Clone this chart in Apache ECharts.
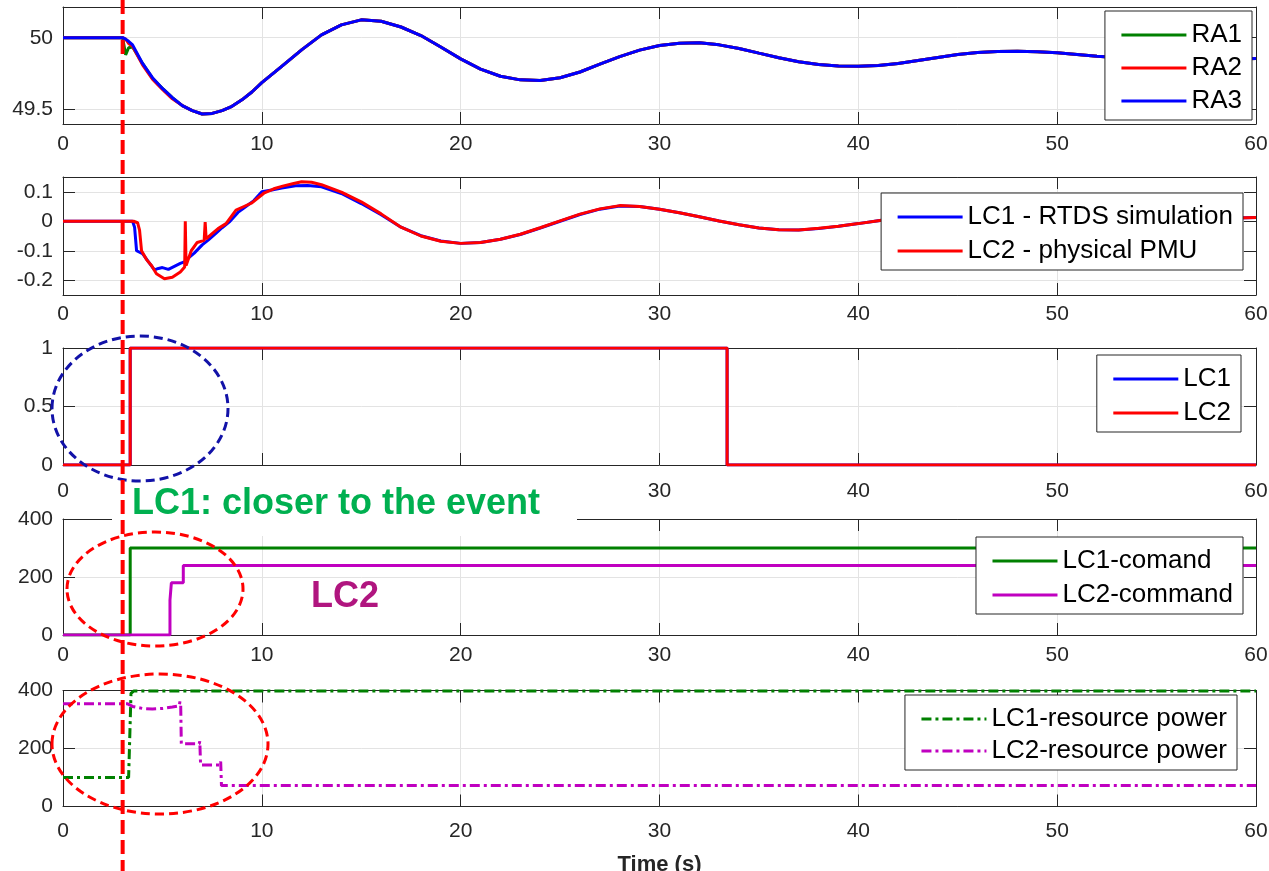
<!DOCTYPE html>
<html>
<head>
<meta charset="utf-8">
<script src="https://cdn.jsdelivr.net/npm/echarts@6.0.0/dist/echarts.min.js"></script>
<style>
  html, body { margin: 0; padding: 0; background: #ffffff; }
  #chart { width: 1269px; height: 871px; }
</style>
</head>
<body>
<div id="chart"></div>
<script>
// ---- Frequency at the three areas (Hz) ----
const freqTime = [0, 2.5, 3, 3.15, 3.3, 3.5,
  4, 4.5, 5, 5.5, 6, 6.5, 7, 7.5, 8, 8.5, 9, 9.5, 10,
  11, 12, 13, 14, 15, 16, 17, 18, 19, 20,
  21, 22, 23, 24, 25, 26, 27, 28, 29, 30,
  31, 32, 33, 34, 35, 36, 37, 38, 39, 40,
  41, 42, 43, 44, 45, 46, 47, 48, 49, 50,
  51, 52, 53, 54, 55, 56, 57, 58, 59, 60];
const freqRA1 = [50, 50, 50, 49.88, 49.93, 49.935,
  49.82, 49.715, 49.645, 49.58, 49.525, 49.49, 49.466, 49.47, 49.49, 49.52, 49.565, 49.62, 49.685,
  49.8, 49.915, 50.02, 50.09, 50.125, 50.115, 50.075, 50.015, 49.935, 49.852,
  49.78, 49.73, 49.705, 49.7, 49.72, 49.76, 49.815, 49.868, 49.913, 49.946,
  49.962, 49.964, 49.95, 49.925, 49.892, 49.86, 49.832, 49.812, 49.802, 49.8,
  49.806, 49.82, 49.84, 49.862, 49.882, 49.896, 49.904, 49.906, 49.902, 49.894,
  49.883, 49.871, 49.861, 49.853, 49.848, 49.846, 49.846, 49.848, 49.851, 49.854];
const freqRA2 = [50, 50, 50, 49.99, 49.96, 49.94,
  49.81, 49.71, 49.638, 49.572, 49.525, 49.49, 49.466, 49.47, 49.49, 49.52, 49.565, 49.62, 49.685,
  49.8, 49.915, 50.02, 50.09, 50.125, 50.115, 50.075, 50.015, 49.935, 49.852,
  49.78, 49.73, 49.705, 49.7, 49.72, 49.76, 49.815, 49.868, 49.913, 49.946,
  49.962, 49.964, 49.95, 49.925, 49.892, 49.86, 49.832, 49.812, 49.802, 49.8,
  49.806, 49.82, 49.84, 49.862, 49.882, 49.896, 49.904, 49.906, 49.902, 49.894,
  49.883, 49.871, 49.861, 49.853, 49.848, 49.846, 49.846, 49.848, 49.851, 49.854];
const freqRA3 = [50, 50, 50, 49.99, 49.975, 49.95,
  49.82, 49.72, 49.645, 49.58, 49.525, 49.49, 49.466, 49.47, 49.49, 49.52, 49.565, 49.62, 49.685,
  49.8, 49.915, 50.02, 50.09, 50.125, 50.115, 50.075, 50.015, 49.935, 49.852,
  49.78, 49.73, 49.705, 49.7, 49.72, 49.76, 49.815, 49.868, 49.913, 49.946,
  49.962, 49.964, 49.95, 49.925, 49.892, 49.86, 49.832, 49.812, 49.802, 49.8,
  49.806, 49.82, 49.84, 49.862, 49.882, 49.896, 49.904, 49.906, 49.902, 49.894,
  49.883, 49.871, 49.861, 49.853, 49.848, 49.846, 49.846, 49.848, 49.851, 49.854];

// ---- Measured signal at the two local controllers ----
const sigTimeLC1 = [0, 3.5, 3.6, 3.7, 4, 4.3, 4.6, 4.8, 5, 5.3,
  5.6, 5.9, 6.1, 6.3, 6.6, 7, 7.3, 7.7, 8, 8.4,
  8.8, 9.2, 9.6, 10, 10.5, 11, 11.7, 12.3, 13, 14,
  15, 16,
  17, 18, 19, 20, 21, 22, 23, 24, 25, 26,
  27, 28, 29, 30, 31, 32, 33, 34, 35, 36,
  37, 38, 39, 40, 41, 42, 43, 44, 45, 46,
  47, 48, 49, 50, 51, 52, 53, 54, 55, 56,
  57, 58, 59, 60];
const sigLC1 = [0, 0, -0.02, -0.1, -0.11, -0.138, -0.165, -0.16, -0.157, -0.163,
  -0.153, -0.143, -0.138, -0.125, -0.108, -0.08, -0.064, -0.04, -0.022, 0,
  0.03, 0.05, 0.07, 0.1, 0.106, 0.113, 0.12, 0.121, 0.117, 0.094,
  0.06, 0.022,
  -0.02, -0.049, -0.067, -0.075, -0.072, -0.061, -0.045, -0.023, 0, 0.023,
  0.041, 0.052, 0.05, 0.041, 0.029, 0.015, 0.001, -0.012, -0.023, -0.029,
  -0.03, -0.025, -0.017, -0.008, 0.002, 0.011, 0.018, 0.022, 0.023, 0.021,
  0.016, 0.009, 0.002, -0.005, -0.011, -0.014, -0.015, -0.013, -0.009, -0.003,
  0.003, 0.008, 0.011, 0.013];
const sigTimeLC2 = [0, 3.55, 3.75, 3.85, 3.95, 4.2, 4.45, 4.7, 5.1, 5.5,
  5.9, 6.12, 6.15, 6.19, 6.45, 6.75, 7.1, 7.15, 7.2, 7.5,
  7.8, 8.2, 8.7, 9.1, 9.5, 10.1, 10.6, 11.1, 11.6, 12,
  12.5, 13, 14, 15, 16,
  17, 18, 19, 20, 21, 22, 23, 24, 25, 26,
  27, 28, 29, 30, 31, 32, 33, 34, 35, 36,
  37, 38, 39, 40, 41, 42, 43, 44, 45, 46,
  47, 48, 49, 50, 51, 52, 53, 54, 55, 56,
  57, 58, 59, 60];
const sigLC2 = [0, 0, -0.005, -0.03, -0.1, -0.13, -0.15, -0.178, -0.195, -0.19,
  -0.172, -0.155, 0, -0.15, -0.1, -0.072, -0.065, -0.003, -0.06, -0.042,
  -0.025, -0.008, 0.038, 0.05, 0.062, 0.095, 0.11, 0.12, 0.128, 0.134,
  0.132, 0.124, 0.099, 0.066, 0.025,
  -0.02, -0.05, -0.068, -0.075, -0.072, -0.061, -0.044, -0.022, 0.001, 0.024,
  0.042, 0.053, 0.05, 0.041, 0.029, 0.015, 0.001, -0.012, -0.023, -0.029,
  -0.03, -0.024, -0.017, -0.008, 0.002, 0.011, 0.018, 0.022, 0.023, 0.021,
  0.016, 0.009, 0.002, -0.005, -0.011, -0.014, -0.015, -0.013, -0.009, -0.003,
  0.003, 0.008, 0.011, 0.013];

// ---- Trigger flags (held until the next sample) ----
const flagTime = [0, 3.38, 33.4, 60];
const flagLC1 = [0, 1, 0, 0];
const flagLC2 = [0, 1, 0, 0];

// ---- Power commands (held until the next sample) ----
const cmdTimeLC1 = [0, 3.38, 60];
const cmdLC1 = [0, 300, 300];
const cmdTimeLC2 = [0, 5.38, 5.45, 6.05, 60];
const cmdLC2 = [0, 120, 180, 240, 240];

// ---- Resource power ----
const powTimeLC1 = [0, 3.3, 3.42, 3.55, 60];
const powLC1 = [100, 100, 390, 398, 398];
const powTimeLC2 = [0, 3.25, 3.5, 4, 4.5, 5, 5.5, 5.85, 5.88, 5.92, 5.95, 6.85, 6.88, 6.92, 7.9, 7.93, 7.97, 60];
const powLC2 = [354, 354, 345, 338, 336, 338, 343, 347, 362, 348, 216, 216, 225, 143, 143, 155, 72, 72];

// ---- Axis ticks ----
const timeTickStep = 10;
const freqTicks = [49.5, 50];
const sigTicks = [-0.2, -0.1, 0, 0.1];
const flagTicks = [0, 0.5, 1];
const powerTicks = [0, 200, 400];
const eventTime = 3;

const FONT = "'Liberation Sans', Arial, Helvetica, sans-serif";
const AX = '#262626';
const GRIDLINE = '#e3e3e3';

const pairs = (t, v) => t.map((x, i) => [x, v[i]]);

// panel frames
const panels = [
  { top: 7, height: 117, min: 49.396, max: 50.215, ticks: freqTicks, labelGap: 10 },
  { top: 177, height: 118, min: -0.25, max: 0.15, ticks: sigTicks, labelGap: 9 },
  { top: 348, height: 117, min: 0, max: 1, ticks: flagTicks, labelGap: 16 },
  { top: 519, height: 116, min: 0, max: 400, ticks: powerTicks, labelGap: 10 },
  { top: 690.5, height: 116, min: 0, max: 400, ticks: powerTicks, labelGap: 14 }
];

const grids = [], xAxes = [], yAxes = [];
panels.forEach((p, i) => {
  grids.push({ left: 63, right: 13, top: p.top, height: p.height, outerBoundsMode: 'none' });
  const lineStyle = { color: AX, width: 1 };
  const xBase = {
    gridIndex: i, type: 'value', min: 0, max: 60, interval: timeTickStep,
    axisLine: { show: true, onZero: false, lineStyle },
    axisTick: { show: true, inside: true, length: 12, lineStyle }
  };
  xAxes.push(Object.assign({}, xBase, {
    position: 'bottom',
    axisLabel: { show: true, margin: p.labelGap, fontSize: 21, color: AX, fontFamily: FONT },
    splitLine: { show: true, lineStyle: { color: GRIDLINE, width: 1 } }
  }, i === 4 ? {
    name: 'Time (s)', nameLocation: 'middle', nameGap: 47,
    nameTextStyle: { fontSize: 22, fontWeight: 'bold', color: AX, fontFamily: FONT }
  } : {}));
  xAxes.push(Object.assign({}, xBase, {
    position: 'top', axisLabel: { show: false }, splitLine: { show: false }
  }));
  const yBase = {
    gridIndex: i, type: 'value', min: p.min, max: p.max,
    axisLine: { show: true, onZero: false, lineStyle },
    axisTick: { show: true, inside: true, length: 12, lineStyle, customValues: p.ticks }
  };
  yAxes.push(Object.assign({}, yBase, {
    position: 'left',
    axisLabel: { show: true, margin: 10, fontSize: 21, color: AX, fontFamily: FONT, customValues: p.ticks },
    splitLine: { show: true, lineStyle: { color: GRIDLINE, width: 1 } }
  }));
  yAxes.push(Object.assign({}, yBase, {
    position: 'right', axisLabel: { show: false }, splitLine: { show: false }
  }));
});

function lineSeries(name, panel, data, color, extra) {
  return Object.assign({
    name, type: 'line', xAxisIndex: panel * 2, yAxisIndex: panel * 2,
    data, symbol: 'none', showSymbol: false, animation: false,
    lineStyle: { color, width: 3 }, itemStyle: { color },
    emphasis: { disabled: true }
  }, extra || {});
}

const DASHDOT = [10, 4, 3, 4];
const series = [
  lineSeries('RA1', 0, pairs(freqTime, freqRA1), '#008000'),
  lineSeries('RA2', 0, pairs(freqTime, freqRA2), '#ff0000'),
  lineSeries('RA3', 0, pairs(freqTime, freqRA3), '#0000ff'),
  lineSeries('LC1 - RTDS simulation', 1, pairs(sigTimeLC1, sigLC1), '#0000ff'),
  lineSeries('LC2 - physical PMU', 1, pairs(sigTimeLC2, sigLC2), '#ff0000'),
  lineSeries('LC1', 2, pairs(flagTime, flagLC1), '#0000ff', { step: 'end' }),
  lineSeries('LC2', 2, pairs(flagTime, flagLC2), '#ff0000', { step: 'end' }),
  lineSeries('LC1-comand', 3, pairs(cmdTimeLC1, cmdLC1), '#008000', { step: 'end' }),
  lineSeries('LC2-command', 3, pairs(cmdTimeLC2, cmdLC2), '#c000c0', { step: 'end' }),
  lineSeries('LC1-resource power', 4, pairs(powTimeLC1, powLC1), '#008000',
    { lineStyle: { color: '#008000', width: 3, type: DASHDOT } }),
  lineSeries('LC2-resource power', 4, pairs(powTimeLC2, powLC2), '#c000c0',
    { lineStyle: { color: '#c000c0', width: 3, type: DASHDOT } })
];

function legendBox(names, top, right, gap) {
  return {
    orient: 'vertical', top, right, data: names,
    itemWidth: 65, itemHeight: 25, itemGap: gap,
    padding: [11, 10, 6, 15],
    itemStyle: { opacity: 0 },
    lineStyle: { width: 3 },
    backgroundColor: '#ffffff', borderColor: AX, borderWidth: 1, borderRadius: 0,
    textStyle: { fontSize: 26, color: '#000000', fontFamily: FONT }
  };
}

const legends = [
  legendBox(['RA1', 'RA2', 'RA3'], 11, 17, 7),
  legendBox(['LC1 - RTDS simulation', 'LC2 - physical PMU'], 193, 26, 8),
  legendBox(['LC1', 'LC2'], 355, 28, 8),
  legendBox(['LC1-comand', 'LC2-command'], 537, 26, 8),
  legendBox(['LC1-resource power', 'LC2-resource power'], 695, 32, 6)
];

const chart = echarts.init(document.getElementById('chart'), null, { renderer: 'canvas' });
chart.setOption({
  backgroundColor: '#ffffff',
  animation: false,
  grid: grids,
  xAxis: xAxes,
  yAxis: yAxes,
  legend: legends,
  series
});

// event marker and annotations
const xEvent = chart.convertToPixel({ xAxisIndex: 0 }, eventTime);
chart.setOption({
  graphic: [
    { type: 'rect', z: 10, shape: { x: 112, y: 472, width: 465, height: 64 },
      style: { fill: '#ffffff' } },
    { type: 'text', z: 11, x: 132, y: 504,
      style: { text: 'LC1: closer to the event', fill: '#00b050',
        font: "bold 36px 'Liberation Sans', Arial, sans-serif", textVerticalAlign: 'middle' } },
    { type: 'text', z: 11, x: 311, y: 597,
      style: { text: 'LC2', fill: '#b0157f',
        font: "bold 36px 'Liberation Sans', Arial, sans-serif", textVerticalAlign: 'middle' } },
    { type: 'ellipse', z: 12, shape: { cx: 140, cy: 408.5, rx: 88, ry: 72.5 },
      style: { fill: 'none', stroke: '#1212a8', lineWidth: 3, lineDash: [9, 5] } },
    { type: 'ellipse', z: 12, shape: { cx: 155, cy: 589, rx: 88, ry: 57 },
      style: { fill: 'none', stroke: '#ff0000', lineWidth: 3, lineDash: [9, 5] } },
    { type: 'ellipse', z: 12, shape: { cx: 160, cy: 744, rx: 108, ry: 70 },
      style: { fill: 'none', stroke: '#ff0000', lineWidth: 3, lineDash: [9, 5] } },
    { type: 'line', z: 13, shape: { x1: xEvent, y1: 0, x2: xEvent, y2: 871 },
      style: { stroke: '#ff0000', lineWidth: 4, lineDash: [14, 6] } }
  ]
});
</script>
</body>
</html>
